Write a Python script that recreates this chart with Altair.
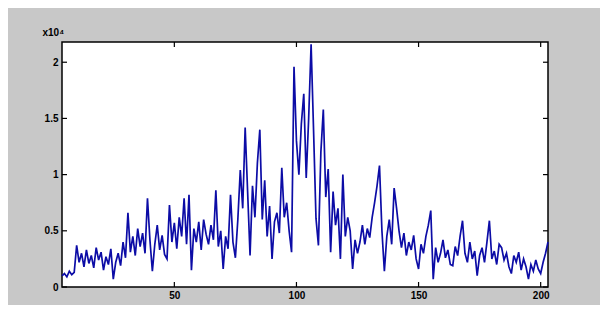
import altair as alt
import pandas as pd

x_start = 4
values = [
    0.10, 0.12, 0.09, 0.14, 0.11, 0.13, 0.37, 0.22, 0.30, 0.18,
    0.33, 0.21, 0.28, 0.17, 0.35, 0.24, 0.31, 0.15, 0.27, 0.20,
    0.34, 0.07, 0.22, 0.30, 0.19, 0.40, 0.26, 0.66, 0.31, 0.45,
    0.28, 0.52, 0.36, 0.48, 0.30, 0.79, 0.42, 0.14, 0.38, 0.55,
    0.33, 0.46, 0.29, 0.25, 0.73, 0.40, 0.57, 0.34, 0.62, 0.45,
    0.79, 0.38, 0.82, 0.15, 0.52, 0.40, 0.58, 0.33, 0.60, 0.47,
    0.38, 0.55, 0.42, 0.86, 0.36, 0.50, 0.16, 0.45, 0.34, 0.82,
    0.40, 0.26, 0.60, 1.04, 0.70, 1.42, 0.85, 0.28, 0.90, 0.62,
    1.10, 1.40, 0.60, 0.95, 0.45, 0.72, 0.25, 0.58, 0.66, 0.48,
    1.06, 0.62, 0.75, 0.50, 0.31, 1.96, 1.30, 1.00, 1.45, 1.72,
    0.97, 1.50, 2.16, 1.40, 0.61, 0.37, 1.20, 1.58, 0.80, 1.05,
    0.31, 0.85, 0.55, 0.70, 0.25, 1.00, 0.45, 0.62, 0.50, 0.16,
    0.42, 0.30, 0.40, 0.55, 0.38, 0.52, 0.44, 0.62, 0.75, 0.90,
    1.08, 0.50, 0.14, 0.45, 0.60, 0.38, 0.88, 0.70, 0.50, 0.35,
    0.48, 0.28, 0.40, 0.33, 0.46, 0.25, 0.16, 0.38, 0.30, 0.45,
    0.55, 0.68, 0.07, 0.35, 0.22, 0.30, 0.42, 0.26, 0.33, 0.20,
    0.19, 0.36, 0.28, 0.45, 0.59, 0.30, 0.22, 0.40, 0.25, 0.32,
    0.10, 0.28, 0.35, 0.22, 0.40, 0.59, 0.25, 0.32, 0.20, 0.38,
    0.35, 0.24, 0.30, 0.18, 0.12, 0.28, 0.22, 0.31, 0.15, 0.25,
    0.18, 0.07, 0.20, 0.14, 0.24, 0.16, 0.12, 0.22, 0.30, 0.40,
]
x_ticks = [50, 100, 150, 200]
y_ticks = [0, 0.5, 1, 1.5, 2]
x_domain = [4, 203]
y_domain = [0, 2.18]
exponent_label = "x10⁴"

W, H = 486, 245
TICK = 5

df = pd.DataFrame({"x": [x_start + i for i in range(len(values))], "y": values})
xt = pd.DataFrame({"t": x_ticks})
yt = pd.DataFrame({"t": y_ticks})

xs = alt.Scale(domain=x_domain, nice=False, zero=False)
ys = alt.Scale(domain=y_domain, nice=False)

font = "Liberation Sans"

line = alt.Chart(df).mark_line(color="#0c0ca6", strokeWidth=1.7).encode(
    x=alt.X("x:Q", scale=xs,
            axis=alt.Axis(values=x_ticks, title=None, grid=False, ticks=False,
                          domain=False, labelPadding=3, labelFontSize=10, format="d",
                          labelFont=font, labelFontWeight="bold", labelColor="black")),
    y=alt.Y("y:Q", scale=ys,
            axis=alt.Axis(values=y_ticks, title=exponent_label, grid=False, ticks=False,
                          domain=False, labelPadding=4, labelFontSize=10, format="~g",
                          labelFont=font, labelFontWeight="bold", labelColor="black",
                          titleAngle=0, titleAlign="left", titleX=-20, titleY=-5,
                          titleFontSize=10, titleFont=font, titleFontWeight="bold",
                          titleColor="black")),
)

bottom_ticks = alt.Chart(xt).mark_rule(color="black", strokeWidth=1.2).encode(
    x=alt.X("t:Q", scale=xs), y=alt.value(H), y2=alt.value(H - TICK))
top_ticks = alt.Chart(xt).mark_rule(color="black", strokeWidth=1.2).encode(
    x=alt.X("t:Q", scale=xs), y=alt.value(0), y2=alt.value(TICK))
left_ticks = alt.Chart(yt).mark_rule(color="black", strokeWidth=1.2).encode(
    y=alt.Y("t:Q", scale=ys), x=alt.value(0), x2=alt.value(TICK))
right_ticks = alt.Chart(yt).mark_rule(color="black", strokeWidth=1.2).encode(
    y=alt.Y("t:Q", scale=ys), x=alt.value(W), x2=alt.value(W - TICK))

chart = alt.layer(line, bottom_ticks, top_ticks, left_ticks, right_ticks).properties(
    width=W, height=H,
    padding={"left": 54, "top": 34, "right": 52, "bottom": 18},
    autosize=alt.AutoSizeParams(type="none"),
).configure(background="#c8c8c8").configure_view(
    stroke="black", strokeWidth=1.5, fill="white"
)

chart.save("out.html", embed_options={"renderer": "svg", "actions": False})
